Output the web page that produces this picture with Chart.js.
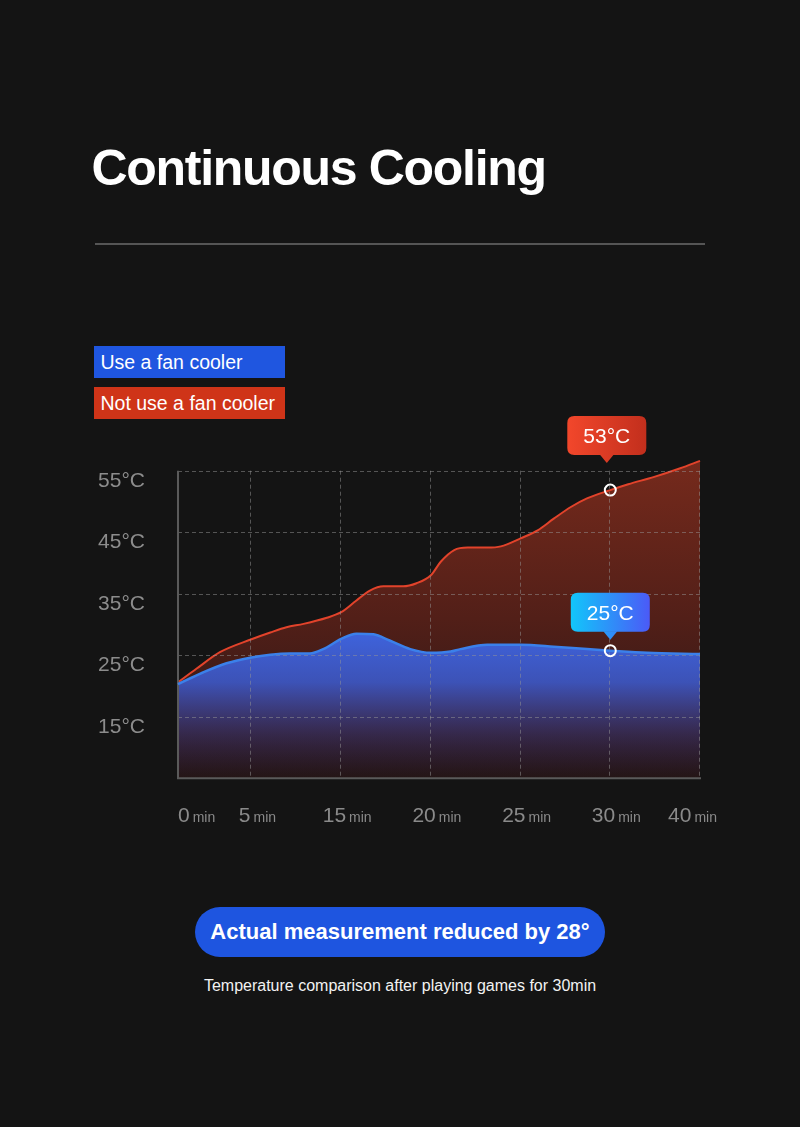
<!DOCTYPE html>
<html><head><meta charset="utf-8">
<script src="https://cdn.jsdelivr.net/npm/chart.js@4.4.1/dist/chart.umd.min.js"></script>
<style>
html,body{margin:0;padding:0;background:#141414;width:800px;height:1127px;overflow:hidden;font-family:"Liberation Sans",Arial,sans-serif;}
.abs{position:absolute;}
#title{left:91.5px;top:142.7px;font-size:50px;line-height:50px;font-weight:bold;color:#fff;letter-spacing:-1.3px;white-space:nowrap;}
#rule{left:95px;top:243px;width:610px;height:2px;background:#555;}
.leg{left:94px;width:191px;height:32px;line-height:32px;font-size:19.5px;color:#fff;padding-left:6.5px;box-sizing:border-box;white-space:nowrap;}
#leg1{top:346px;background:#1f56e0;}
#leg2{top:387px;background:#cf3418;}
#pill{left:195px;top:907px;width:410px;height:50px;border-radius:25px;background:#1e55e0;color:#fff;font-weight:bold;font-size:22px;line-height:50px;text-align:center;white-space:nowrap;}
#sub{left:0;width:800px;top:978.2px;font-size:16px;line-height:16px;text-align:center;color:#f2f2f2;white-space:nowrap;}
#c{left:0;top:400px;}
</style></head>
<body>
<div id="title" class="abs">Continuous Cooling</div>
<div id="rule" class="abs"></div>
<div id="leg1" class="abs leg">Use a fan cooler</div>
<div id="leg2" class="abs leg">Not use a fan cooler</div>
<canvas id="c" class="abs" width="800" height="440"></canvas>
<div id="pill" class="abs">Actual measurement reduced by 28°</div>
<div id="sub" class="abs">Temperature comparison after playing games for 30min</div>
<script>
// ---- data ----
const xTickLabels = ['0','5','15','20','25','30','40'];
const xUnit = 'min';
const yTickValues = [15,25,35,45,55];
const seriesNames = ['Use a fan cooler','Not use a fan cooler'];
// x axis unit = one gridline step; the "0 min" axis sits 0.181 step in, ticks "5".."40" at 1..6
const xAxisStart = 0.181;
const withFanX    = [0.181,0.459,0.722,1,1.21,1.43,1.65,1.8,2,2.17,2.36,2.54,2.77,3,3.22,3.33,3.63,4,4.37,4.74,5,5.41,6];
const withFanTemp = [20.3,22.2,23.7,24.65,25.1,25.3,25.3,26.0,27.65,28.5,28.4,27.4,26.0,25.4,25.6,26.0,26.7,26.7,26.4,26.0,25.75,25.4,25.2];
const noFanX    = [0.181,0.386,0.648,1,1.21,1.39,1.58,1.84,2,2.17,2.32,2.47,2.69,2.84,3,3.11,3.26,3.41,3.63,3.78,4,4.19,4.37,4.56,4.74,5,5.2,5.49,5.78,6];
const noFanTemp = [20.6,22.8,25.5,27.6,28.7,29.55,30.1,31.1,32.0,33.9,35.5,36.2,36.2,36.7,38.0,40.2,42.1,42.5,42.5,42.7,44.0,45.3,47.2,49.1,50.5,51.85,52.8,54.0,55.4,56.6];
const markerX = 5; // the "30 min" tick
const calloutTexts = ['25°C','53°C'];

const FONT = '"Liberation Sans", Arial, sans-serif';
const tickPos = i => i === 0 ? xAxisStart : i;

function blueFill(c){
  const {chart} = c; const a = chart.chartArea; if(!a) return 'rgba(60,98,220,0.9)';
  const y = chart.scales.y;
  const g = chart.ctx.createLinearGradient(0, y.getPixelForValue(29), 0, a.bottom);
  g.addColorStop(0, 'rgba(62,100,222,1)');
  g.addColorStop(0.35, 'rgba(60,90,205,0.88)');
  g.addColorStop(0.7, 'rgba(62,72,175,0.35)');
  g.addColorStop(1, 'rgba(50,50,140,0)');
  return g;
}
function redFill(c){
  const {chart} = c; const a = chart.chartArea; if(!a) return 'rgba(100,35,25,1)';
  const g = chart.ctx.createLinearGradient(0, a.top, 0, a.bottom);
  g.addColorStop(0, 'rgba(118,42,28,1)');
  g.addColorStop(0.5, 'rgba(82,31,24,1)');
  g.addColorStop(1, 'rgba(36,21,21,1)');
  return g;
}
const pr = c => (c.raw && c.raw.x === markerX) ? 5.5 : 0;

const gridPlugin = {
  id:'gridOver',
  beforeDatasetDraw(chart, args){
    if(args.index !== 0) return;
    const {ctx, chartArea:a, scales:{x, y}} = chart;
    const top = y.getPixelForValue(yTickValues[yTickValues.length-1]);
    ctx.save();
    ctx.setLineDash([4,3]);
    ctx.lineWidth = 1;
    ctx.strokeStyle = 'rgba(150,150,150,0.5)';
    yTickValues.forEach(v=>{
      const py = Math.round(y.getPixelForValue(v)) + 0.5;
      ctx.beginPath(); ctx.moveTo(a.left, py); ctx.lineTo(a.right, py); ctx.stroke();
    });
    xTickLabels.forEach((l,i)=>{
      if(i===0) return;
      const px = Math.round(x.getPixelForValue(tickPos(i))) - 0.5;
      ctx.beginPath(); ctx.moveTo(px, top); ctx.lineTo(px, a.bottom); ctx.stroke();
    });
    ctx.setLineDash([]);
    ctx.strokeStyle = '#5a5a5a';
    ctx.lineWidth = 2;
    ctx.beginPath(); ctx.moveTo(a.left, top); ctx.lineTo(a.left, a.bottom); ctx.stroke();
    ctx.beginPath(); ctx.moveTo(a.left-1, a.bottom); ctx.lineTo(a.right+1, a.bottom); ctx.stroke();
    ctx.restore();
  }
};

const xLabelPlugin = {
  id:'xLabels',
  afterDraw(chart){
    const {ctx, chartArea:a, scales:{x}} = chart;
    ctx.save();
    ctx.fillStyle = '#8a8a8a';
    ctx.textBaseline = 'alphabetic';
    ctx.textAlign = 'left';
    const yb = a.bottom + 43.4;
    xTickLabels.forEach((lab,i)=>{
      const px = x.getPixelForValue(tickPos(i));
      ctx.font = '21px ' + FONT;
      const wn = ctx.measureText(lab).width;
      ctx.font = '14px ' + FONT;
      const wu = ctx.measureText(xUnit).width;
      const gap = 3;
      const w = wn + gap + wu;
      let left = i === 0 ? px : px - w/2 + 6;
      if(left + w > 717) left = 717 - w;
      ctx.font = '21px ' + FONT;
      ctx.fillText(lab, left, yb);
      ctx.font = '14px ' + FONT;
      ctx.fillText(xUnit, left + wn + gap, yb);
    });
    ctx.restore();
  }
};

const calloutStyles = [
  {tipGap:11, shift:0, c0:'#12c6fa', c1:'#4b5af7'},
  {tipGap:27, shift:-3.5, c0:'#f2472b', c1:'#c22f1d'}
];
function roundRect(ctx,x,y,w,h,r){
  ctx.beginPath();
  ctx.moveTo(x+r,y); ctx.lineTo(x+w-r,y); ctx.quadraticCurveTo(x+w,y,x+w,y+r);
  ctx.lineTo(x+w,y+h-r); ctx.quadraticCurveTo(x+w,y+h,x+w-r,y+h);
  ctx.lineTo(x+r,y+h); ctx.quadraticCurveTo(x,y+h,x,y+h-r);
  ctx.lineTo(x,y+r); ctx.quadraticCurveTo(x,y,x+r,y); ctx.closePath();
}
const calloutPlugin = {
  id:'callouts',
  afterDatasetsDraw(chart){
    const ctx = chart.ctx;
    chart.data.datasets.forEach((ds,d)=>{
      const meta = chart.getDatasetMeta(d);
      const idx = ds.data.findIndex(p=>p.x===markerX);
      if(idx<0) return;
      const el = meta.data[idx];
      const st = calloutStyles[d];
      const w = 79, h = 39, r = 7, th = 8, tw = 7;
      const tipY = el.y - st.tipGap;
      const cx = el.x + st.shift;
      const bx = cx - w/2, by = tipY - th - h;
      const g = ctx.createLinearGradient(bx,0,bx+w,0);
      g.addColorStop(0, st.c0); g.addColorStop(1, st.c1);
      ctx.save();
      ctx.fillStyle = g;
      roundRect(ctx,bx,by,w,h,r); ctx.fill();
      ctx.beginPath(); ctx.moveTo(cx-tw, by+h-0.5); ctx.lineTo(cx+tw, by+h-0.5); ctx.lineTo(cx, tipY); ctx.closePath(); ctx.fill();
      ctx.fillStyle = '#fff';
      ctx.font = '21px ' + FONT;
      ctx.textAlign = 'center'; ctx.textBaseline = 'alphabetic';
      ctx.fillText(calloutTexts[d], cx, by + h/2 + 7.5);
      ctx.restore();
    });
  }
};

new Chart(document.getElementById('c').getContext('2d'), {
  type:'line',
  data:{datasets:[
    {label:seriesNames[0], data:withFanX.map((x,i)=>({x, y:withFanTemp[i]})),
     borderColor:'#3b80ea', borderWidth:2.5, fill:'start', backgroundColor:blueFill,
     cubicInterpolationMode:'monotone', pointRadius:pr, pointHoverRadius:pr,
     pointBorderColor:'#ffffff', pointBorderWidth:2, pointBackgroundColor:'rgba(0,0,0,0)', clip:false},
    {label:seriesNames[1], data:noFanX.map((x,i)=>({x, y:noFanTemp[i]})),
     borderColor:'#e2432b', borderWidth:2, fill:'start', backgroundColor:redFill,
     cubicInterpolationMode:'monotone', pointRadius:pr, pointHoverRadius:pr,
     pointBorderColor:'#ffffff', pointBorderWidth:2, pointBackgroundColor:'rgba(0,0,0,0)', clip:false}
  ]},
  options:{
    responsive:false, animation:false, events:[],
    layout:{padding:{left:0, right:100, top:58.4, bottom:61.7}},
    plugins:{legend:{display:false}, tooltip:{enabled:false}},
    scales:{
      x:{type:'linear', min:xAxisStart, max:xTickLabels.length-1,
         grid:{display:false, drawTicks:false}, ticks:{display:false}, border:{display:false},
         afterFit:s=>{s.height=0; s.paddingLeft=0; s.paddingRight=0;}},
      y:{type:'linear', min:5, max:57,
         afterBuildTicks:s=>{s.ticks=yTickValues.map(v=>({value:v}));},
         grid:{display:false, drawTicks:false}, border:{display:false},
         ticks:{color:'#8c8c8c', font:{family:FONT, size:21}, padding:33, labelOffset:10, callback:v=>v+'°C'},
         afterFit:s=>{s.width=178; s.paddingTop=0; s.paddingBottom=0;}}
    }
  },
  plugins:[gridPlugin, calloutPlugin, xLabelPlugin]
});
</script>
</body></html>
